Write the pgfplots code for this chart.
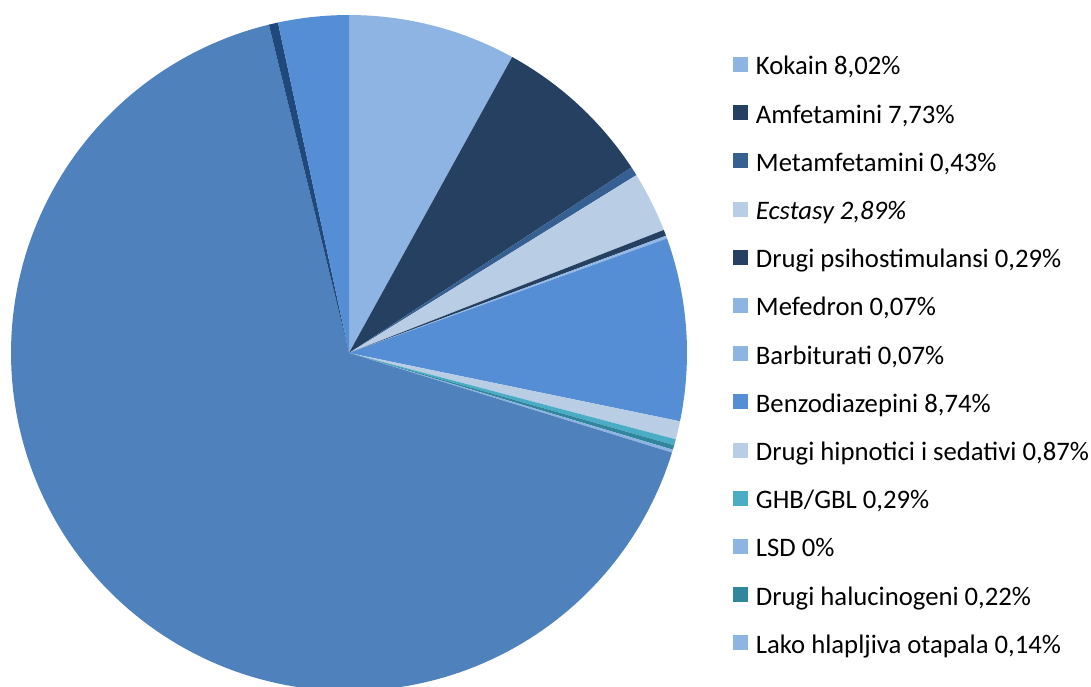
\documentclass[border=0pt]{standalone}
\usepackage{fontspec}
\setmainfont{Carlito}
\usepackage{pgfplots}
\usepackage{pgfplotstable}
\pgfplotsset{compat=1.18}
\definecolor{cA}{HTML}{8EB4E3}
\definecolor{cB}{HTML}{254061}
\definecolor{cC}{HTML}{376092}
\definecolor{cD}{HTML}{B9CDE5}
\definecolor{cE}{HTML}{558ED5}
\definecolor{cF}{HTML}{4BACC6}
\definecolor{cG}{HTML}{31859C}
\definecolor{cH}{HTML}{4F81BD}
\definecolor{cI}{HTML}{1F497D}
\pgfplotstableread[col sep=semicolon]{
name;value;color;leg
Kokain 8,02\%;8.02;cA;1
Amfetamini 7,73\%;7.73;cB;1
Metamfetamini 0,43\%;0.43;cC;1
\textit{Ecstasy 2,89\%};2.89;cD;1
Drugi psihostimulansi 0,29\%;0.29;cB;1
Mefedron 0,07\%;0.07;cA;1
Barbiturati 0,07\%;0.07;cA;1
Benzodiazepini 8,74\%;8.74;cE;1
Drugi hipnotici i sedativi 0,87\%;0.87;cD;1
GHB/GBL 0,29\%;0.29;cF;1
LSD 0\%;0;cA;1
Drugi halucinogeni 0,22\%;0.22;cG;1
Lako hlapljiva otapala 0,14\%;0.14;cA;1
Ostalo;66.43;cH;0
Ostalo2;0.44;cI;0
Ostalo3;3.37;cE;0
}\slices
\pgfplotstablegetrowsof{\slices}
\pgfmathtruncatemacro\nrows{\pgfplotsretval-1}
\def\cum{0}
\begin{document}
\begin{tikzpicture}
\path[use as bounding box] (0pt,0pt) rectangle (1091pt,687pt);
\begin{axis}[
  hide axis,
  x=338pt, y=338pt,
  xmin=-1, xmax=1, ymin=-1, ymax=1,
  anchor=origin, at={(349pt,334pt)},
  legend cell align=left,
  legend image code/.code={\fill[#1,draw=none] (0pt,-3pt) rectangle (15pt,12pt);},
  legend style={at={(1.068,0.9379)}, anchor=north west, draw=none, fill=none,
    inner sep=0pt, outer sep=0pt, row sep=24.2pt,
    font=\fontsize{26.7}{32}\selectfont,
    nodes={inner sep=0pt, text height=18pt, text depth=6pt},
    /tikz/every odd column/.append style={column sep=8pt}},
]
\pgfplotsforeachungrouped \i in {0,...,\nrows}{%
  \pgfplotstablegetelem{\i}{value}\of\slices \let\slv\pgfplotsretval
  \pgfplotstablegetelem{\i}{color}\of\slices \let\slc\pgfplotsretval
  \pgfplotstablegetelem{\i}{leg}\of\slices \let\sll\pgfplotsretval
  \pgfmathsetmacro\angA{90-3.6*\cum}%
  \pgfmathsetmacro\cum{\cum+\slv}%
  \pgfmathsetmacro\angB{90-3.6*\cum}%
  \pgfmathtruncatemacro\ns{max(3,(\angA-\angB)/1.5+2)}%
  \ifdim\slv pt>0pt
    \ifnum\sll=1
      \edef\tmp{\noexpand\addplot[fill=\slc,draw=none,domain=\angB:\angA,samples=\ns] ({cos(x)},{sin(x)}) -- (axis cs:0,0) -- cycle;}%
    \else
      \edef\tmp{\noexpand\addplot[forget plot,fill=\slc,draw=none,domain=\angB:\angA,samples=\ns] ({cos(x)},{sin(x)}) -- (axis cs:0,0) -- cycle;}%
    \fi
    \tmp
  \else
    \edef\tmp{\noexpand\addlegendimage{fill=\slc,draw=none}}\tmp
  \fi
  \ifnum\sll=1
    \pgfplotstablegetelem{\i}{name}\of\slices
    \expandafter\addlegendentry\expandafter{\pgfplotsretval}%
  \fi
}
\end{axis}
\end{tikzpicture}
\end{document}
